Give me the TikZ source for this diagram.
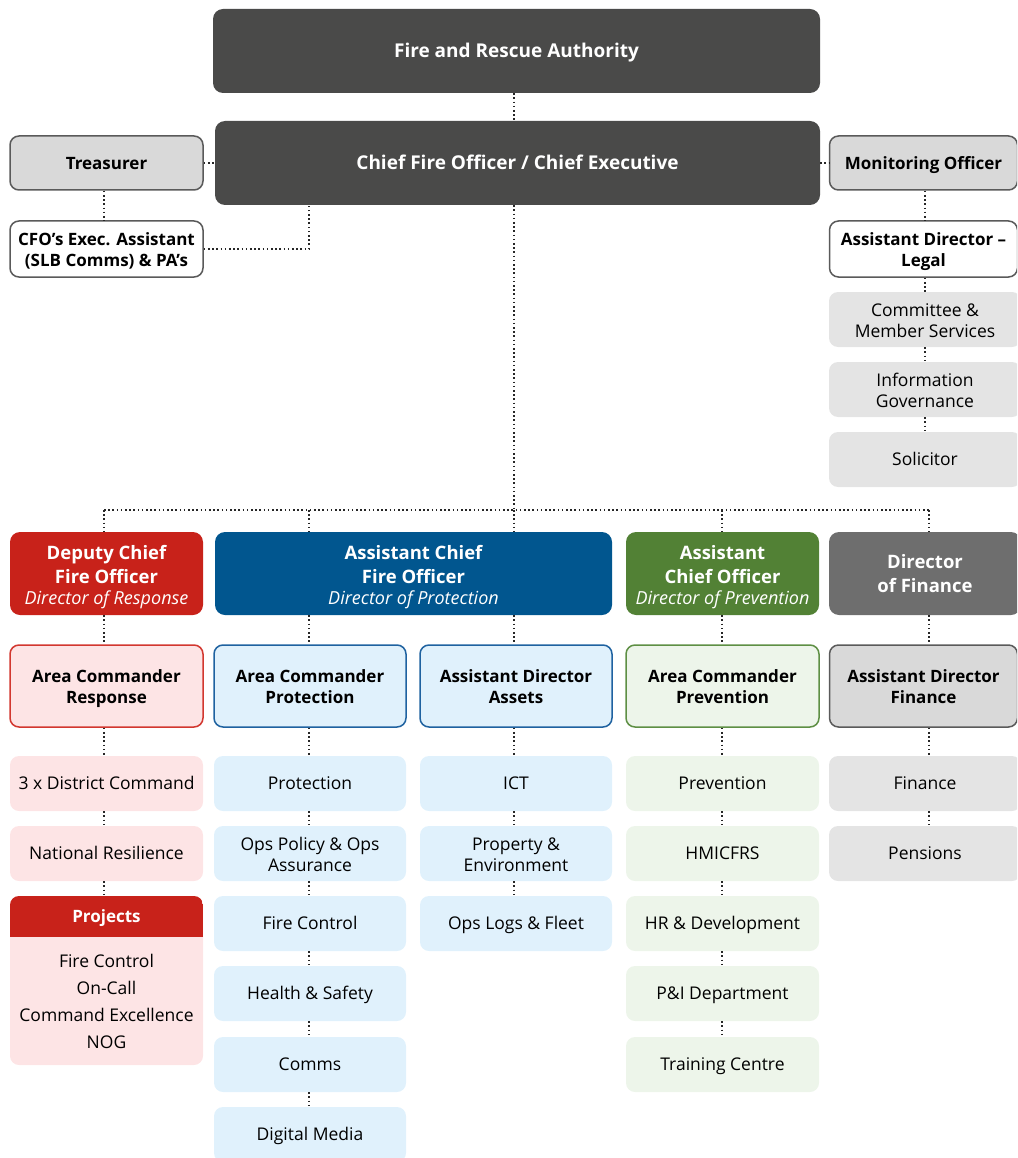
\documentclass[tikz,border=0pt]{standalone}
\usepackage{fontspec}
\setmainfont{Open Sans}
\definecolor{cDark}{HTML}{4A4A49}
\definecolor{cRed}{HTML}{C8221A}
\definecolor{cBlue}{HTML}{01568F}
\definecolor{cGreen}{HTML}{528135}
\definecolor{cGrayD}{HTML}{6E6E6E}
\definecolor{cLRed}{HTML}{FDE4E5}
\definecolor{cLBlue}{HTML}{E0F1FC}
\definecolor{cLGreen}{HTML}{EDF5EA}
\definecolor{cLGray}{HTML}{D9D9D9}
\definecolor{cItemG}{HTML}{E4E4E4}
\definecolor{cBRed}{HTML}{D2372F}
\definecolor{cBBlue}{HTML}{1F62A0}
\definecolor{cBGreen}{HTML}{5E8F44}
\definecolor{cBGray}{HTML}{5A5A5A}
\newcommand{\fsA}{\fontsize{19}{23}\selectfont}
\newcommand{\fsB}{\fontsize{17}{21}\selectfont}
\newcommand{\fsC}{\fontsize{17.5}{21}\selectfont}
\newcommand{\fsT}{\fontsize{18.5}{24}\selectfont}
\newcommand{\fsI}{\fontsize{18}{20}\selectfont}
\tikzset{
  base/.style={rounded corners=9pt, inner sep=0pt, align=center, anchor=center},
  struts/.style 2 args={execute at begin node={\rule{0pt}{#1}},
                        execute at end node={\rule[-#2]{0pt}{#2}}},
  ml/.style={struts={40.5pt}{5pt}},
  mlt/.style={struts={66.5pt}{5pt}},
  mlf/.style={struts={43.5pt}{5pt}},
  darkbox/.style={base, rounded corners=10pt, fill=cDark, text=white, font=\bfseries\fsA, struts={18.6pt}{5pt}},
  gbox/.style={base, fill=cLGray, draw=cBGray, line width=1.5pt, font=\bfseries\fsB, struts={17.1pt}{5pt}},
  wbox/.style={base, fill=white, draw=cBGray, line width=1.5pt, font=\bfseries\fsB, ml},
  gitem/.style={base, fill=cItemG, font=\fsC},
  topbox/.style={base, rounded corners=10pt, text=white, font=\bfseries\fsT},
  areabox/.style={base, line width=1.5pt, font=\bfseries\fsB, ml},
  itembox/.style={base, font=\fsC},
  one/.style={struts={17.5pt}{5pt}},
  conn/.style={line width=1.6pt, dash pattern=on 1.6pt off 2.6pt, black!85},
}
\begin{document}
\begin{tikzpicture}[x=1pt,y=-1pt]
\useasboundingbox (0,0) rectangle (1017,1158);
\clip (0,0) rectangle (1017,1158);
% column guide coordinates
\coordinate (k1) at (104,0);
\coordinate (k2) at (309,0);
\coordinate (k3) at (514,0);
\coordinate (k4) at (722,0);
\coordinate (k5) at (929,0);
\coordinate (km) at (925,0);

% top
\node[darkbox, minimum width=607pt, minimum height=84pt] (fra) at (516.5,51) {Fire and Rescue Authority};
\node[darkbox, minimum width=605pt, minimum height=84pt] (cfo) at (517.5,163) {Chief Fire Officer / Chief Executive};
\node[gbox, minimum width=193pt, minimum height=54pt] (treas) at (106.5,163) {Treasurer};
\node[wbox, minimum width=193pt, minimum height=56pt] (exec) at (106.5,249) {CFO’s Exec. Assistant\\(SLB Comms) \& PA’s};
\node[gbox, minimum width=188pt, minimum height=54pt] (mon) at (923.5,163) {Monitoring Officer};
\node[wbox, minimum width=188pt, minimum height=56pt] (adl) at (923.5,249) {Assistant Director –\\Legal};
\node[gitem, ml, minimum width=192pt, minimum height=55pt] (com) at (925,319.5) {Committee \&\\Member Services};
\node[gitem, ml, minimum width=192pt, minimum height=55pt] (ig) at (925,389.5) {Information\\Governance};
\node[gitem, one, minimum width=192pt, minimum height=55pt] (sol) at (925,459.5) {Solicitor};

% top-level directors
\node[topbox, mlt, fill=cRed, minimum width=193pt, minimum height=83pt] (dcfo) at (106.5,573.5) {Deputy Chief\\Fire Officer\\[-3pt]{\mdseries\itshape\fsI Director of Response}};
\node[topbox, mlt, fill=cBlue, minimum width=397pt, minimum height=83pt] (acfo) at (413.5,573.5) {Assistant Chief\\Fire Officer\\[-3pt]{\mdseries\itshape\fsI Director of Protection}};
\node[topbox, mlt, fill=cGreen, minimum width=193pt, minimum height=83pt] (aco) at (722.5,573.5) {Assistant\\Chief Officer\\[-3pt]{\mdseries\itshape\fsI Director of Prevention}};
\node[topbox, mlf, fill=cGrayD, minimum width=192pt, minimum height=83pt] (dof) at (925,573.5) {Director\\of Finance};

% area row
\node[areabox, fill=cLRed, draw=cBRed, minimum width=193pt, minimum height=82pt] (acr) at (106.5,686) {Area Commander\\Response};
\node[areabox, fill=cLBlue, draw=cBBlue, minimum width=192pt, minimum height=82pt] (acp) at (310,686) {Area Commander\\Protection};
\node[areabox, fill=cLBlue, draw=cBBlue, minimum width=192pt, minimum height=82pt] (ada) at (516,686) {Assistant Director\\Assets};
\node[areabox, fill=cLGreen, draw=cBGreen, minimum width=193pt, minimum height=82pt] (acv) at (722.5,686) {Area Commander\\Prevention};
\node[areabox, fill=cLGray, draw=cBGray, minimum width=188pt, minimum height=82pt] (adf) at (923.5,686) {Assistant Director\\Finance};

% column 1
\tikzset{c1/.style={itembox, fill=cLRed, minimum width=193pt, minimum height=55pt}}
\node[c1, one] (r1) at (106.5,783.5) {3 x District Command};
\node[c1, one] (r2) at (106.5,853.5) {National Resilience};
\node[base, fill=cLRed, minimum width=193pt, minimum height=169pt] (proj) at (106.5,980.5) {};
\begin{scope}
  \clip[rounded corners=9pt] (10,896) rectangle (203,1065);
  \fill[cRed] (10,896) rectangle (203,937);
\end{scope}
\node[font=\bfseries\fsB, text=white, inner sep=0pt, struts={17.1pt}{5pt}] (projh) at (106.5,916.5) {Projects};
\node[font=\fsC, align=center, inner sep=0pt] (projl) at (106.5,1001.5) {Fire Control\\[6pt]On-Call\\[6pt]Command Excellence\\[6pt]NOG};

% column 2
\tikzset{c2/.style={itembox, fill=cLBlue, minimum width=192pt, minimum height=55pt}}
\node[c2, one] (p1) at (310,783.5) {Protection};
\node[c2, ml] (p2) at (310,853.5) {Ops Policy \& Ops\\Assurance};
\node[c2, one] (p3) at (310,923.5) {Fire Control};
\node[c2, one] (p4) at (310,993.5) {Health \& Safety};
\node[c2, one] (p5) at (310,1064.5) {Comms};
\node[c2, one] (p6) at (310,1134.5) {Digital Media};

% column 3
\node[c2, one] (a1) at (516,783.5) {ICT};
\node[c2, ml] (a2) at (516,853.5) {Property \&\\Environment};
\node[c2, one] (a3) at (516,923.5) {Ops Logs \& Fleet};

% column 4
\tikzset{c4/.style={itembox, one, fill=cLGreen, minimum width=193pt, minimum height=55pt}}
\node[c4] (v1) at (722.5,783.5) {Prevention};
\node[c4] (v2) at (722.5,853.5) {HMICFRS};
\node[c4] (v3) at (722.5,923.5) {HR \& Development};
\node[c4] (v4) at (722.5,993.5) {P\&I Department};
\node[c4] (v5) at (722.5,1064.5) {Training Centre};

% column 5
\tikzset{c5/.style={itembox, one, fill=cItemG, minimum width=192pt, minimum height=55pt}}
\node[c5] (f1) at (925,783.5) {Finance};
\node[c5] (f2) at (925,853.5) {Pensions};

% connectors top
\draw[conn] (fra.south -| k3) -- (cfo.north -| k3);
\draw[conn] (treas.east) -- (cfo.west |- treas.east);
\draw[conn] (cfo.east |- mon.west) -- (mon.west);
\draw[conn] (treas.south -| k1) -- (exec.north -| k1);
\draw[conn] (exec.east) -| (cfo.south -| k2);
\draw[conn] (mon.south -| km) -- (adl.north -| km);
\draw[conn] (adl.south -| km) -- (com.north -| km);
\draw[conn] (com.south -| km) -- (ig.north -| km);
\draw[conn] (ig.south -| km) -- (sol.north -| km);

% bus
\coordinate (bus) at (0,510);
\draw[conn] (cfo.south -| k3) -- (bus -| k3);
\draw[conn] (bus -| k1) -- (bus -| k5);
\draw[conn] (bus -| k1) -- (dcfo.north -| k1);
\draw[conn] (bus -| k2) -- (acfo.north -| k2);
\draw[conn] (bus -| k3) -- (acfo.north -| k3);
\draw[conn] (bus -| k4) -- (aco.north -| k4);
\draw[conn] (bus -| k5) -- (dof.north -| k5);

% director to area
\draw[conn] (dcfo.south -| k1) -- (acr.north -| k1);
\draw[conn] (acfo.south -| k2) -- (acp.north -| k2);
\draw[conn] (acfo.south -| k3) -- (ada.north -| k3);
\draw[conn] (aco.south -| k4) -- (acv.north -| k4);
\draw[conn] (dof.south -| k5) -- (adf.north -| k5);

% area to items
\draw[conn] (acr.south -| k1) -- (r1.north -| k1);
\draw[conn] (r1.south -| k1) -- (r2.north -| k1);
\draw[conn] (r2.south -| k1) -- (proj.north -| k1);

\draw[conn] (acp.south -| k2) -- (p1.north -| k2);
\draw[conn] (p1.south -| k2) -- (p2.north -| k2);
\draw[conn] (p2.south -| k2) -- (p3.north -| k2);
\draw[conn] (p3.south -| k2) -- (p4.north -| k2);
\draw[conn] (p4.south -| k2) -- (p5.north -| k2);
\draw[conn] (p5.south -| k2) -- (p6.north -| k2);

\draw[conn] (ada.south -| k3) -- (a1.north -| k3);
\draw[conn] (a1.south -| k3) -- (a2.north -| k3);
\draw[conn] (a2.south -| k3) -- (a3.north -| k3);

\draw[conn] (acv.south -| k4) -- (v1.north -| k4);
\draw[conn] (v1.south -| k4) -- (v2.north -| k4);
\draw[conn] (v2.south -| k4) -- (v3.north -| k4);
\draw[conn] (v3.south -| k4) -- (v4.north -| k4);
\draw[conn] (v4.south -| k4) -- (v5.north -| k4);

\draw[conn] (adf.south -| k5) -- (f1.north -| k5);
\draw[conn] (f1.south -| k5) -- (f2.north -| k5);
\end{tikzpicture}
\end{document}
